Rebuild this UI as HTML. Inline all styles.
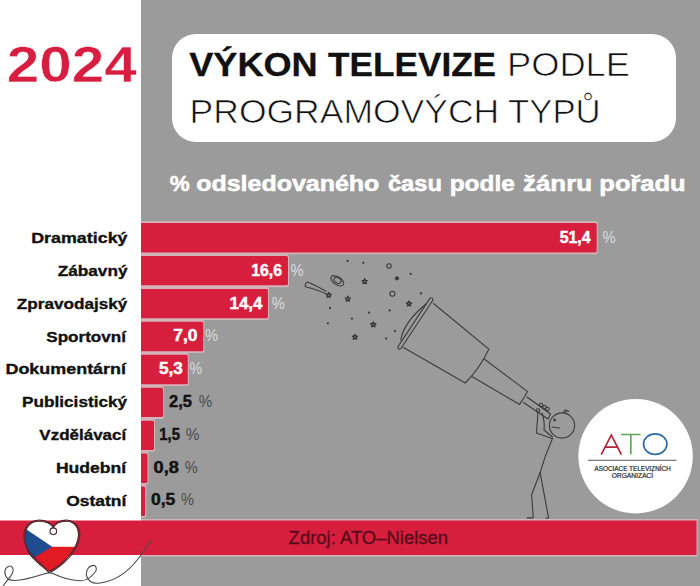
<!DOCTYPE html><html><head><meta charset="utf-8"><style>html,body{margin:0;padding:0;width:700px;height:586px;overflow:hidden;background:#fff}svg{display:block}text{font-family:"Liberation Sans",sans-serif}</style></head><body>
<svg width="700" height="586" viewBox="0 0 700 586">
<rect x="0" y="0" width="700" height="586" fill="#ffffff"/>
<rect x="141.0" y="0" width="559.0" height="586" fill="#9b9b9b"/>
<rect x="172" y="34" width="504" height="108" rx="24" ry="24" fill="#ffffff"/>
<rect x="140.0" y="221.20" width="457.7" height="33.00" rx="2.5" fill="#d2b4ba"/>
<rect x="140.0" y="254.14" width="149.0" height="33.00" rx="2.5" fill="#d2b4ba"/>
<rect x="140.0" y="287.08" width="129.0" height="33.00" rx="2.5" fill="#d2b4ba"/>
<rect x="140.0" y="320.02" width="64.3" height="33.00" rx="2.5" fill="#d2b4ba"/>
<rect x="140.0" y="352.96" width="48.8" height="33.00" rx="2.5" fill="#d2b4ba"/>
<rect x="140.0" y="385.90" width="24.0" height="33.00" rx="2.5" fill="#d2b4ba"/>
<rect x="140.0" y="418.84" width="15.0" height="33.00" rx="2.5" fill="#d2b4ba"/>
<rect x="140.0" y="451.78" width="8.5" height="33.00" rx="2.5" fill="#d2b4ba"/>
<rect x="140.0" y="484.72" width="6.2" height="33.00" rx="2.5" fill="#d2b4ba"/>
<rect x="138.0" y="223.0" width="458.7" height="29.4" rx="1.5" fill="#d71f3d"/>
<rect x="138.0" y="255.94" width="150.0" height="29.4" rx="1.5" fill="#d71f3d"/>
<rect x="138.0" y="288.88" width="130.0" height="29.4" rx="1.5" fill="#d71f3d"/>
<rect x="138.0" y="321.82" width="65.3" height="29.4" rx="1.5" fill="#d71f3d"/>
<rect x="138.0" y="354.76" width="49.8" height="29.4" rx="1.5" fill="#d71f3d"/>
<rect x="138.0" y="387.7" width="25.0" height="29.4" rx="1.5" fill="#d71f3d"/>
<rect x="138.0" y="420.64" width="16.0" height="29.4" rx="1.5" fill="#d71f3d"/>
<rect x="138.0" y="453.58" width="9.5" height="29.4" rx="1.5" fill="#d71f3d"/>
<rect x="138.0" y="486.52" width="7.2" height="29.4" rx="1.5" fill="#d71f3d"/>
<rect x="0" y="215" width="141.0" height="303" fill="#ffffff"/>
<rect x="141.0" y="519" width="556.5" height="37.5" fill="#d2b4ba"/>
<rect x="-2" y="520.5" width="698.5" height="34.5" fill="#d71f3d"/>
<circle cx="635.6" cy="456.2" r="57.2" fill="#ffffff"/>
<g fill="none" stroke-width="1.7" stroke-linejoin="miter">
<path d="M601.2,454.6 L611.3,435.2 L621.4,454.6 M605,447.2 L617.6,447.2" stroke="#b0283c"/>
<path d="M621,434.5 L640.6,434.5 M630.8,434.5 L630.8,454.3" stroke="#62a35a"/>
<ellipse cx="655.2" cy="444.1" rx="11.7" ry="10.2" stroke="#2c6aa3"/>
</g>
<rect x="588" y="459.7" width="88.5" height="1.3" fill="#7a7a7a"/>
<text x="594.5" y="471.3" font-size="6.6" fill="#333" textLength="76" lengthAdjust="spacingAndGlyphs">ASOCIACE TELEVIZNÍCH</text>
<text x="611.9" y="478.2" font-size="6.6" fill="#333" textLength="41" lengthAdjust="spacingAndGlyphs">ORGANIZACÍ</text>
<g fill="none" stroke="#3b3b3b" stroke-width="1.1" stroke-linecap="round" stroke-linejoin="round">
<circle cx="347.6" cy="260.9" r="1.15" fill="#3b3b3b" stroke="none"/>
<circle cx="363.3" cy="262.8" r="1.15" fill="#3b3b3b" stroke="none"/>
<circle cx="410.7" cy="273.8" r="1.15" fill="#3b3b3b" stroke="none"/>
<circle cx="421" cy="293.4" r="1.15" fill="#3b3b3b" stroke="none"/>
<circle cx="330" cy="307.9" r="1.15" fill="#3b3b3b" stroke="none"/>
<circle cx="369" cy="312.6" r="1.15" fill="#3b3b3b" stroke="none"/>
<circle cx="389.6" cy="310.4" r="1.15" fill="#3b3b3b" stroke="none"/>
<circle cx="351.9" cy="318.6" r="1.15" fill="#3b3b3b" stroke="none"/>
<circle cx="327.9" cy="323.3" r="1.15" fill="#3b3b3b" stroke="none"/>
<circle cx="395" cy="331.1" r="1.15" fill="#3b3b3b" stroke="none"/>
<circle cx="386.1" cy="338.6" r="1.15" fill="#3b3b3b" stroke="none"/>
<circle cx="389" cy="266" r="2.2"/>
<circle cx="392.4" cy="293.7" r="2.5"/>
<circle cx="397" cy="278.3" r="2.1" fill="#3b3b3b" stroke="none"/>
<polygon points="364.70,278.70 365.41,280.42 367.27,280.57 365.86,281.78 366.29,283.58 364.70,282.61 363.11,283.58 363.54,281.78 362.13,280.57 363.99,280.42" fill="none" stroke="#353535" stroke-width="1.35" stroke-linejoin="round"/>
<polygon points="347.80,296.20 348.51,297.92 350.37,298.07 348.96,299.28 349.39,301.08 347.80,300.11 346.21,301.08 346.64,299.28 345.23,298.07 347.09,297.92" fill="none" stroke="#353535" stroke-width="1.35" stroke-linejoin="round"/>
<polygon points="409.00,301.00 409.71,302.72 411.57,302.87 410.16,304.08 410.59,305.88 409.00,304.91 407.41,305.88 407.84,304.08 406.43,302.87 408.29,302.72" fill="none" stroke="#353535" stroke-width="1.35" stroke-linejoin="round"/>
<polygon points="373.30,321.90 374.01,323.62 375.87,323.77 374.46,324.98 374.89,326.78 373.30,325.81 371.71,326.78 372.14,324.98 370.73,323.77 372.59,323.62" fill="none" stroke="#353535" stroke-width="1.35" stroke-linejoin="round"/>
<polygon points="355.00,334.40 355.71,336.12 357.57,336.27 356.16,337.48 356.59,339.28 355.00,338.31 353.41,339.28 353.84,337.48 352.43,336.27 354.29,336.12" fill="none" stroke="#353535" stroke-width="1.35" stroke-linejoin="round"/>
<polygon points="328.70,292.40 329.41,294.12 331.27,294.27 329.86,295.48 330.29,297.28 328.70,296.31 327.11,297.28 327.54,295.48 326.13,294.27 327.99,294.12" fill="none" stroke="#353535" stroke-width="1.35" stroke-linejoin="round"/>
<ellipse cx="337.3" cy="280.8" rx="7.3" ry="3.9" transform="rotate(33 337.3 280.8)"/>
<ellipse cx="337.5" cy="280.3" rx="3.9" ry="2.6" transform="rotate(33 337.5 280.3)"/>
<path d="M325.3,293.6 C318,290 310,288 305.5,286.8 C304.5,285.5 305.5,283 307.5,282 C311,283 319,287.5 326,291.2"/>
<path d="M431.2,299.6 L399.6,347.3" stroke-width="4.6" stroke="#3b3b3b"/>
<path d="M431.2,299.6 L399.6,347.3" stroke-width="2.4" stroke="#9d9d9d"/>
<path d="M426,304 Q404,322 400.7,340"/>
<path d="M433.5,303.5 L488.8,349.2 Q480,368 465.3,383 L403.5,347.5"/>
<path d="M484.5,359.2 L527.6,391.6 Q524,398 519.6,404.4 L472.3,376.8"/>
<path d="M527,397 L550.5,414 L548,419 L523.5,402.5"/>
<circle cx="541" cy="405" r="1.7"/>
<circle cx="544.5" cy="407" r="1.7"/>
<circle cx="547.5" cy="409" r="1.7"/>
<circle cx="538" cy="410.5" r="1.7"/>
<circle cx="562" cy="425.5" r="12.6"/>
<circle cx="554.6" cy="420" r="1.4" fill="#3b3b3b" stroke="none"/>
<path d="M552,427 L559.5,428"/>
<path d="M563.5,412.5 Q564.5,409.5 566.5,410.3 M565.5,412.6 Q567,410 568.6,411.4"/>
<path d="M538,412 L536.5,433 L552,438.5"/>
<path d="M542,413 Q545,422 544,430 L552.5,437"/>
<path d="M552.5,438.5 Q545,455 540.1,472.7"/>
<path d="M540.1,472.7 L531.6,494.8 L533.3,517.9 L527.3,517.9"/>
<path d="M540.1,472.7 L548.6,517.9 L546,518.2"/>
</g>
<defs><clipPath id="hc"><path d="M53.3,527.5 C56,522.5 61,521 67,521.2 C74.5,521.5 79,528 78.4,535.5 C78,545 70.5,556 62,563 C56,568 51,571 48.7,571.2 C45,569 37,562.5 31,556 C26,550 24.5,541 25.3,534 C26.3,525.5 32,521.3 38.5,521.3 C45,521.3 50.5,523.5 53.3,527.5 Z"/></clipPath></defs>
<g clip-path="url(#hc)">
<rect x="20" y="515" width="65" height="32" fill="#ffffff"/>
<rect x="20" y="546.8" width="65" height="30" fill="#e21a22"/>
<polygon points="20,525 52.2,546.8 20,566" fill="#1f4b91"/>
</g>
<g fill="none" stroke="#4a2228" stroke-width="1.1" stroke-linecap="round">
<path d="M53.3,527.5 C56,522.5 61,521 67,521.2 C74.5,521.5 79,528 78.4,535.5 C78,545 70.5,556 62,563 C56,568 51,571 48.7,571.2 C45,569 37,562.5 31,556 C26,550 24.5,541 25.3,534 C26.3,525.5 32,521.3 38.5,521.3 C45,521.3 50.5,523.5 53.3,527.5 Z" transform="translate(0,0)"/>
<path d="M53.5,527 C50,521.5 44,519.8 37.5,520.2 C29,521 24,527 23.8,535 C23.6,543 28,551 35,558 C40,563 45,567.5 48.7,572.5" stroke="#5a2a30"/>
<path d="M53,527.2 C56.5,521.2 62,519.8 68,520.2 C76,521 80.5,528 79.8,536 C79,546 72,556 63,563.5 C57,568.5 52,571.5 49.5,572.5" stroke="#5a2a30"/>
<circle cx="53.3" cy="531.2" r="3.3"/>
</g>
<path d="M2,588 C5,582 10,578 12,574 C15,568 11,565 8.6,566.4 C4,568 3.5,575 8,579 C14,583 30,578.5 42.9,574.3 C47,573 50,572 53,573.5 C58,576 68,580 80,580.7 C88,581 92,576 95.5,571.5 C97.5,568 95,565 93.4,565.4 C88,566 85,572 87,577 C89,582 93,584 100,583 C115,581 128,572 138,559 C143,553 147,546 150.9,540.6" fill="none" stroke="#4a4a4a" stroke-width="1.1" stroke-linecap="round"/>
<text x="6.66" y="82.0" font-size="50" font-weight="bold" fill="#d81e40" textLength="129.99" lengthAdjust="spacingAndGlyphs" stroke="#fff" stroke-width="0.5">2024</text>
<text x="189.24" y="75.9" font-size="33.4" font-weight="bold" fill="#111" textLength="128.47" lengthAdjust="spacingAndGlyphs" stroke="#111" stroke-width="0.3">VÝKON</text>
<text x="328.13" y="75.9" font-size="33.4" font-weight="bold" fill="#111" textLength="167.94" lengthAdjust="spacingAndGlyphs" stroke="#111" stroke-width="0.3">TELEVIZE</text>
<text x="506.98" y="75.9" font-size="33.4" font-weight="normal" fill="#111" textLength="122.99" lengthAdjust="spacingAndGlyphs" stroke="#fff" stroke-width="0.7">PODLE</text>
<text x="189.59" y="122.6" font-size="32.8" font-weight="normal" fill="#111" textLength="309.61" lengthAdjust="spacingAndGlyphs" stroke="#fff" stroke-width="0.7">PROGRAMOVÝCH</text>
<text x="507.99" y="122.6" font-size="32.8" font-weight="normal" fill="#111" textLength="92.67" lengthAdjust="spacingAndGlyphs" stroke="#fff" stroke-width="0.7">TYPŮ</text>
<text x="169.7" y="191" font-size="22.5" font-weight="bold" fill="#fff" textLength="19.94" lengthAdjust="spacingAndGlyphs" stroke="#fff" stroke-width="0.55">%</text>
<text x="196.17" y="191" font-size="22.5" font-weight="bold" fill="#fff" textLength="183.17" lengthAdjust="spacingAndGlyphs" stroke="#fff" stroke-width="0.55">odsledovaného</text>
<text x="387.95" y="191" font-size="22.5" font-weight="bold" fill="#fff" textLength="54.05" lengthAdjust="spacingAndGlyphs" stroke="#fff" stroke-width="0.55">času</text>
<text x="449.7" y="191" font-size="22.5" font-weight="bold" fill="#fff" textLength="65.12" lengthAdjust="spacingAndGlyphs" stroke="#fff" stroke-width="0.55">podle</text>
<text x="522.91" y="191" font-size="22.5" font-weight="bold" fill="#fff" textLength="69.25" lengthAdjust="spacingAndGlyphs" stroke="#fff" stroke-width="0.55">žánru</text>
<text x="599.32" y="191" font-size="22.5" font-weight="bold" fill="#fff" textLength="86.36" lengthAdjust="spacingAndGlyphs" stroke="#fff" stroke-width="0.55">pořadu</text>
<text x="31.24" y="243.1" font-size="15.1" font-weight="bold" fill="#111" textLength="96.26" lengthAdjust="spacingAndGlyphs" stroke="#111" stroke-width="0.35">Dramatický</text>
<text x="57.65" y="275.9" font-size="15.1" font-weight="bold" fill="#111" textLength="69.89" lengthAdjust="spacingAndGlyphs" stroke="#111" stroke-width="0.35">Zábavný</text>
<text x="16.87" y="308.7" font-size="15.1" font-weight="bold" fill="#111" textLength="110.44" lengthAdjust="spacingAndGlyphs" stroke="#111" stroke-width="0.35">Zpravodajský</text>
<text x="46.32" y="341.5" font-size="15.1" font-weight="bold" fill="#111" textLength="79.64" lengthAdjust="spacingAndGlyphs" stroke="#111" stroke-width="0.35">Sportovní</text>
<text x="5.44" y="374.29999999999995" font-size="15.1" font-weight="bold" fill="#111" textLength="120.56" lengthAdjust="spacingAndGlyphs" stroke="#111" stroke-width="0.35">Dokumentární</text>
<text x="22.05" y="407.1" font-size="15.1" font-weight="bold" fill="#111" textLength="105.05" lengthAdjust="spacingAndGlyphs" stroke="#111" stroke-width="0.35">Publicistický</text>
<text x="39.33" y="439.9" font-size="15.1" font-weight="bold" fill="#111" textLength="86.87" lengthAdjust="spacingAndGlyphs" stroke="#111" stroke-width="0.35">Vzdělávací</text>
<text x="55.92" y="472.69999999999993" font-size="15.1" font-weight="bold" fill="#111" textLength="70.25" lengthAdjust="spacingAndGlyphs" stroke="#111" stroke-width="0.35">Hudební</text>
<text x="66.26" y="505.5" font-size="15.1" font-weight="bold" fill="#111" textLength="60.06" lengthAdjust="spacingAndGlyphs" stroke="#111" stroke-width="0.35">Ostatní</text>
<text x="559.69" y="243.0" font-size="16.8" font-weight="bold" fill="#fff" textLength="30.89" lengthAdjust="spacingAndGlyphs" stroke="#fff" stroke-width="0.45">51,4</text>
<text x="602.46" y="243.0" font-size="16.5" font-weight="normal" fill="#dcdcdc" textLength="13.06" lengthAdjust="spacingAndGlyphs">%</text>
<text x="251.23" y="275.8" font-size="16.8" font-weight="bold" fill="#fff" textLength="30.84" lengthAdjust="spacingAndGlyphs" stroke="#fff" stroke-width="0.45">16,6</text>
<text x="290.46" y="275.8" font-size="16.5" font-weight="normal" fill="#dcdcdc" textLength="13.06" lengthAdjust="spacingAndGlyphs">%</text>
<text x="229.48" y="308.6" font-size="16.8" font-weight="bold" fill="#fff" textLength="32.99" lengthAdjust="spacingAndGlyphs" stroke="#fff" stroke-width="0.45">14,4</text>
<text x="271.86" y="308.6" font-size="16.5" font-weight="normal" fill="#dcdcdc" textLength="13.06" lengthAdjust="spacingAndGlyphs">%</text>
<text x="173.29" y="341.4" font-size="16.8" font-weight="bold" fill="#fff" textLength="24.32" lengthAdjust="spacingAndGlyphs" stroke="#fff" stroke-width="0.45">7,0</text>
<text x="205.06" y="341.4" font-size="16.5" font-weight="normal" fill="#dcdcdc" textLength="13.06" lengthAdjust="spacingAndGlyphs">%</text>
<text x="158.97" y="374.2" font-size="16.8" font-weight="bold" fill="#fff" textLength="23.86" lengthAdjust="spacingAndGlyphs" stroke="#fff" stroke-width="0.45">5,3</text>
<text x="189.48" y="374.2" font-size="16.5" font-weight="normal" fill="#dcdcdc" textLength="12.73" lengthAdjust="spacingAndGlyphs">%</text>
<text x="169.06" y="407.0" font-size="16.8" font-weight="bold" fill="#111" textLength="22.9" lengthAdjust="spacingAndGlyphs" stroke="#111" stroke-width="0.45">2,5</text>
<text x="198.85" y="407.0" font-size="16.5" font-weight="normal" fill="#4a4a4a" textLength="13.49" lengthAdjust="spacingAndGlyphs">%</text>
<text x="159.36" y="439.79999999999995" font-size="16.8" font-weight="bold" fill="#111" textLength="20.57" lengthAdjust="spacingAndGlyphs" stroke="#111" stroke-width="0.45">1,5</text>
<text x="185.84" y="439.79999999999995" font-size="16.5" font-weight="normal" fill="#4a4a4a" textLength="13.71" lengthAdjust="spacingAndGlyphs">%</text>
<text x="153.52" y="472.59999999999997" font-size="16.8" font-weight="bold" fill="#111" textLength="25.34" lengthAdjust="spacingAndGlyphs" stroke="#111" stroke-width="0.45">0,8</text>
<text x="184.77" y="472.59999999999997" font-size="16.5" font-weight="normal" fill="#4a4a4a" textLength="12.95" lengthAdjust="spacingAndGlyphs">%</text>
<text x="150.94" y="505.4" font-size="16.8" font-weight="bold" fill="#111" textLength="24.33" lengthAdjust="spacingAndGlyphs" stroke="#111" stroke-width="0.45">0,5</text>
<text x="180.97" y="505.4" font-size="16.5" font-weight="normal" fill="#4a4a4a" textLength="12.95" lengthAdjust="spacingAndGlyphs">%</text>
<text x="288.62" y="544.4" font-size="18.3" font-weight="normal" fill="#560a1b" textLength="159.49" lengthAdjust="spacingAndGlyphs" stroke="#560a1b" stroke-width="0.3">Zdroj: ATO–Nielsen</text>
<text x="594.35" y="471.3" font-size="6.5" font-weight="normal" fill="#505050" textLength="76.59" lengthAdjust="spacingAndGlyphs">ASOCIACE TELEVIZNÍCH</text>
<text x="611.57" y="478.1" font-size="6.5" font-weight="normal" fill="#505050" textLength="41.77" lengthAdjust="spacingAndGlyphs">ORGANIZACÍ</text>
</svg></body></html>
